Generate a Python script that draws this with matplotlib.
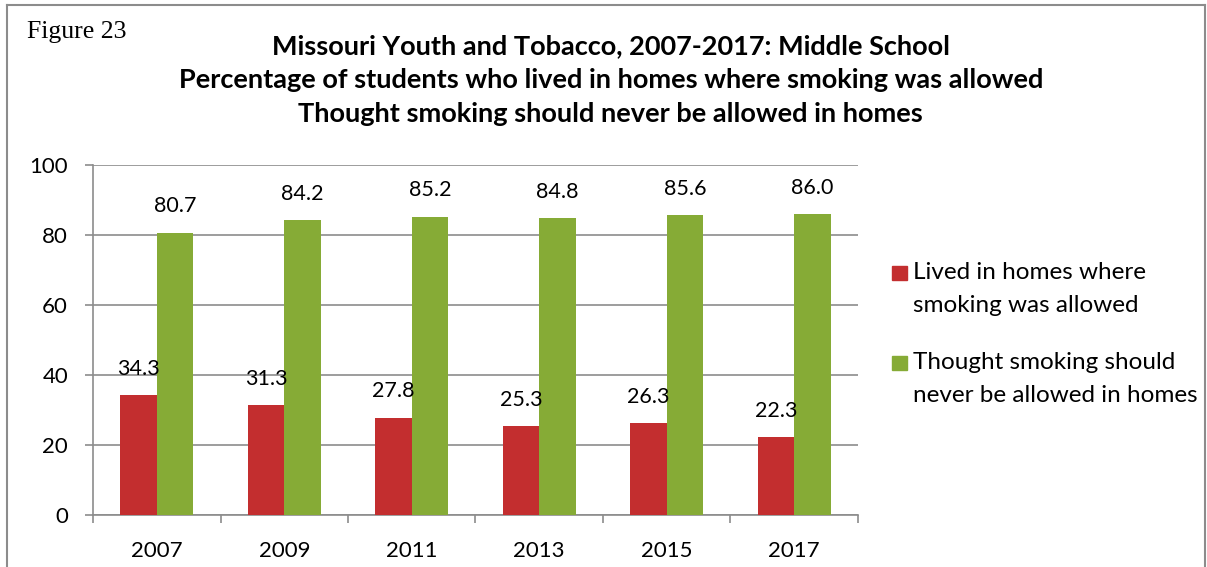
import matplotlib
matplotlib.use("Agg")
import numpy as np
import matplotlib.pyplot as plt
from matplotlib.lines import Line2D
from matplotlib.patches import Rectangle

years = ["2007", "2009", "2011", "2013", "2015", "2017"]
lived_allowed = [34.3, 31.3, 27.8, 25.3, 26.3, 22.3]
never_allowed = [80.7, 84.2, 85.2, 84.8, 85.6, 86.0]
series_names = ["Lived in homes where\nsmoking was allowed",
                "Thought smoking should\nnever be allowed in homes"]

RED = "#C32E2F"
GREEN = "#86AB36"
GRID = "#8C8C8C"

plt.rcParams['font.family'] = ['Lato', 'DejaVu Sans']

fig = plt.figure(figsize=(12.07, 5.67), dpi=100)
ax = fig.add_axes([0.0771, 0.0917, 0.6337, 0.6173])

x = np.arange(len(years))
w = 1 / 3.5
b1 = ax.bar(x - w / 2, lived_allowed, w, color=RED, zorder=3)
b2 = ax.bar(x + w / 2, never_allowed, w, color=GREEN, zorder=3)

for bars, vals in ((b1, lived_allowed), (b2, never_allowed)):
    for r, v in zip(bars, vals):
        ax.annotate(f"{v:.1f}", (r.get_x() + r.get_width() / 2, v),
                    xytext=(0, 19), textcoords="offset points",
                    ha="center", va="center", fontsize=15.5, zorder=4)

ax.set_ylim(0, 100)
ax.set_xlim(-0.5, len(years) - 0.5)
ax.set_yticks(range(0, 101, 20))
ax.yaxis.grid(True, color=GRID, linewidth=1.2, zorder=0)

# category labels in the middle, tick marks on the boundaries
ax.set_xticks(x)
ax.set_xticklabels(years)
ax.set_xticks(np.arange(-0.5, len(years)), minor=True)
ax.tick_params(axis="x", which="major", length=0, labelsize=16, pad=19)
ax.tick_params(axis="x", which="minor", length=6, width=1.2, color=GRID)
ax.tick_params(axis="y", length=6, width=1.2, color=GRID, labelsize=16, pad=12)

for s in ("top", "right"):
    ax.spines[s].set_visible(False)
for s in ("left", "bottom"):
    ax.spines[s].set_color(GRID)
    ax.spines[s].set_linewidth(1.2)

# legend: square key beside the first line of each label
key_x, key_w, key_h = 892 / 1207, 15 / 1207, 14 / 567
for i, (name, col) in enumerate(zip(series_names, (RED, GREEN))):
    y_top = 1 - (266 + 90 * i) / 567
    fig.add_artist(Rectangle((key_x, y_top - key_h), key_w, key_h,
                             color=col, transform=fig.transFigure))
    fig.text(913 / 1207, y_top + 4 / 567, name, ha="left", va="top",
             fontsize=17.5, linespacing=1.7)

fig.text(0.506, 0.859, "Missouri Youth and Tobacco, 2007-2017: Middle School\n"
         "Percentage of students who lived in homes where smoking was allowed\n"
         "Thought smoking should never be allowed in homes",
         ha="center", va="center", fontsize=19.5, fontweight="bold",
         linespacing=1.5)
fig.text(0.0224, 0.944, "Figure 23", family="Liberation Serif", fontsize=18.5,
         ha="left", va="center")

# frame drawn around the figure
for xs, ys in (([0.006, 0.006], [0.0, 0.991]),
               ([0.006, 0.998], [0.991, 0.991]),
               ([0.998, 0.998], [0.0, 0.991])):
    fig.add_artist(Line2D(xs, ys, color="#8C8C8C", linewidth=1.5,
                          transform=fig.transFigure))

fig.savefig("out.png", dpi=100)
